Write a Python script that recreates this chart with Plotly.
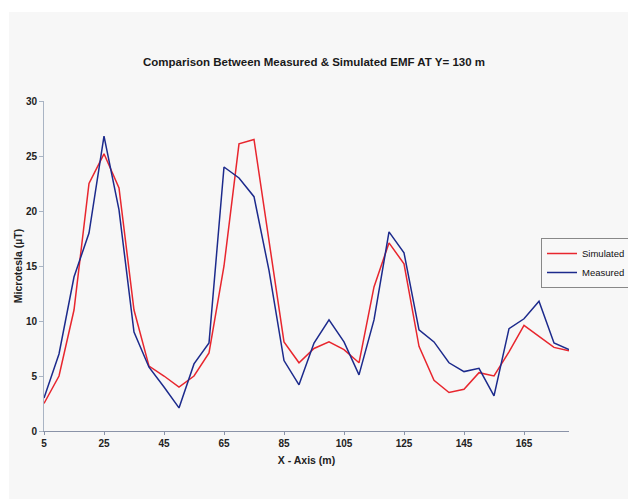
import plotly.graph_objects as go

x_m = [5, 10, 15, 20, 25, 30, 35, 40, 45, 50, 55, 60, 65, 70, 75, 80, 85, 90,
       95, 100, 105, 110, 115, 120, 125, 130, 135, 140, 145, 150, 155, 160, 165, 170, 175, 180]
simulated = [2.5, 5.0, 11.0, 22.5, 25.2, 22.1, 11.0, 5.9, 5.0, 4.0, 5.0, 7.1, 15.0, 26.1, 26.5, 17.2, 8.1, 6.2,
             7.5, 8.1, 7.4, 6.2, 13.1, 17.1, 15.2, 7.7, 4.6, 3.5, 3.8, 5.3, 5.0, 7.2, 9.6, 8.6, 7.6, 7.3]
measured = [3.0, 7.0, 14.0, 18.0, 26.8, 20.1, 9.0, 5.8, 4.0, 2.1, 6.1, 8.0, 24.0, 23.0, 21.3, 14.6, 6.4, 4.2,
            8.0, 10.1, 8.1, 5.1, 10.1, 18.1, 16.2, 9.2, 8.1, 6.2, 5.4, 5.7, 3.2, 9.3, 10.2, 11.8, 8.0, 7.4]
x_ticks = [5, 25, 45, 65, 85, 105, 125, 145, 165]
y_ticks = [0, 5, 10, 15, 20, 25, 30]

FONT = "Liberation Sans, Arial, sans-serif"

fig = go.Figure()
fig.add_trace(go.Scatter(x=x_m, y=simulated, mode="lines", name="Simulated",
                         line=dict(color="#e8262e", width=1.5)))
fig.add_trace(go.Scatter(x=x_m, y=measured, mode="lines", name="Measured",
                         line=dict(color="#1c2a8c", width=1.5)))

L, R, T, B = 44, 59, 101, 68
W, H = 628, 499
pw, ph = W - L - R, H - T - B

fig.add_shape(type="rect", xref="paper", yref="paper", layer="below",
              x0=(9 - L) / pw, x1=(W - L) / pw + 0.01,
              y0=-(H - T - ph) / ph - 0.01, y1=(H - 12 - B) / ph,
              fillcolor="#f7f7f7", line=dict(width=0))

fig.update_layout(
    width=W, height=H,
    margin=dict(l=L, r=R, t=T, b=B, autoexpand=False),
    paper_bgcolor="white", plot_bgcolor="rgba(0,0,0,0)",
    font=dict(family=FONT, color="#222"),
    title=dict(text="<b>Comparison Between Measured & Simulated EMF AT Y= 130 m</b>",
               x=314 / W, xanchor="center", y=1 - 62 / H, yanchor="middle",
               font=dict(size=11.5, color="#1a1a1a")),
    xaxis=dict(range=[5, 180], tickvals=x_ticks, showgrid=False, zeroline=False,
               showline=True, linecolor="#8a93a8", linewidth=1,
               ticks="outside", ticklen=3, tickcolor="#8a93a8",
               tickfont=dict(size=10, family=FONT, weight="bold", color="#222"),
               title=dict(text="<b>X - Axis (m)</b>", font=dict(size=10.5, color="#222"), standoff=8)),
    yaxis=dict(range=[0, 30], tickvals=y_ticks, showgrid=False, zeroline=False,
               showline=True, linecolor="#a9b4c4", linewidth=1,
               ticks="outside", ticklen=4, tickcolor="#a9b4c4",
               tickfont=dict(size=10, family=FONT, weight="bold", color="#222"),
               title=dict(text="<b>Microtesla (µT)</b>", font=dict(size=10.5, color="#222"), standoff=1)),
    legend=dict(xref="container", yref="container", x=541 / W, y=1 - 238 / H,
                xanchor="left", yanchor="top",
                bgcolor="rgba(247,247,247,0.9)", bordercolor="#888", borderwidth=1,
                font=dict(size=9.5, family=FONT, color="#111"), tracegroupgap=0,
                itemwidth=30),
    showlegend=True,
)

fig.write_html("out.html")
